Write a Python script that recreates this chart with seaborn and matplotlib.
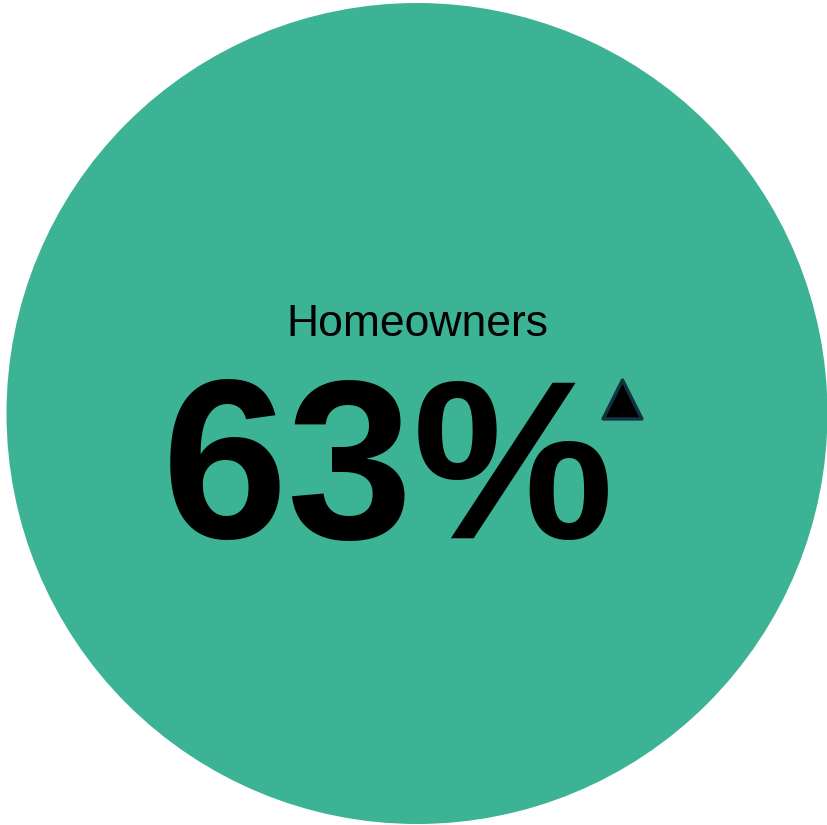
import matplotlib
matplotlib.use("Agg")
import matplotlib.pyplot as plt
from matplotlib.patches import Circle
import seaborn as sns
import pandas as pd

# Indicator data
labels = ["Homeowners"]
values = [63]
trends = ["up"]

sns.set_theme(style="white")
plt.rcParams["font.family"] = ["Liberation Sans", "DejaVu Sans"]

W, H = 828, 825
fig = plt.figure(figsize=(W / 100, H / 100), dpi=100)
ax = fig.add_axes([0, 0, 1, 1])

cx, cy, r = 417, 413.5, 410.5
ax.add_patch(Circle((cx, cy), r, facecolor="#3cb394", edgecolor="none", zorder=1))

ax.text(cx, 325, labels[0], ha="center", va="center", fontsize=32,
        color="#000000", zorder=3)
ax.text(388.5, 538, f"{values[0]}%", ha="center", va="baseline", fontsize=163,
        fontweight="bold", color="#000000", zorder=3)

# Trend marker
df = pd.DataFrame({"x": [622], "y": [399], "trend": trends})
sns.scatterplot(data=df, x="x", y="y", marker="^", s=780, color="#000000",
                edgecolor="#12333f", linewidth=2.5, ax=ax, legend=False, zorder=4)
ax.set_xlim(0, W)
ax.set_ylim(H, 0)
ax.set_axis_off()

fig.savefig("out.png", dpi=100, facecolor="white")
